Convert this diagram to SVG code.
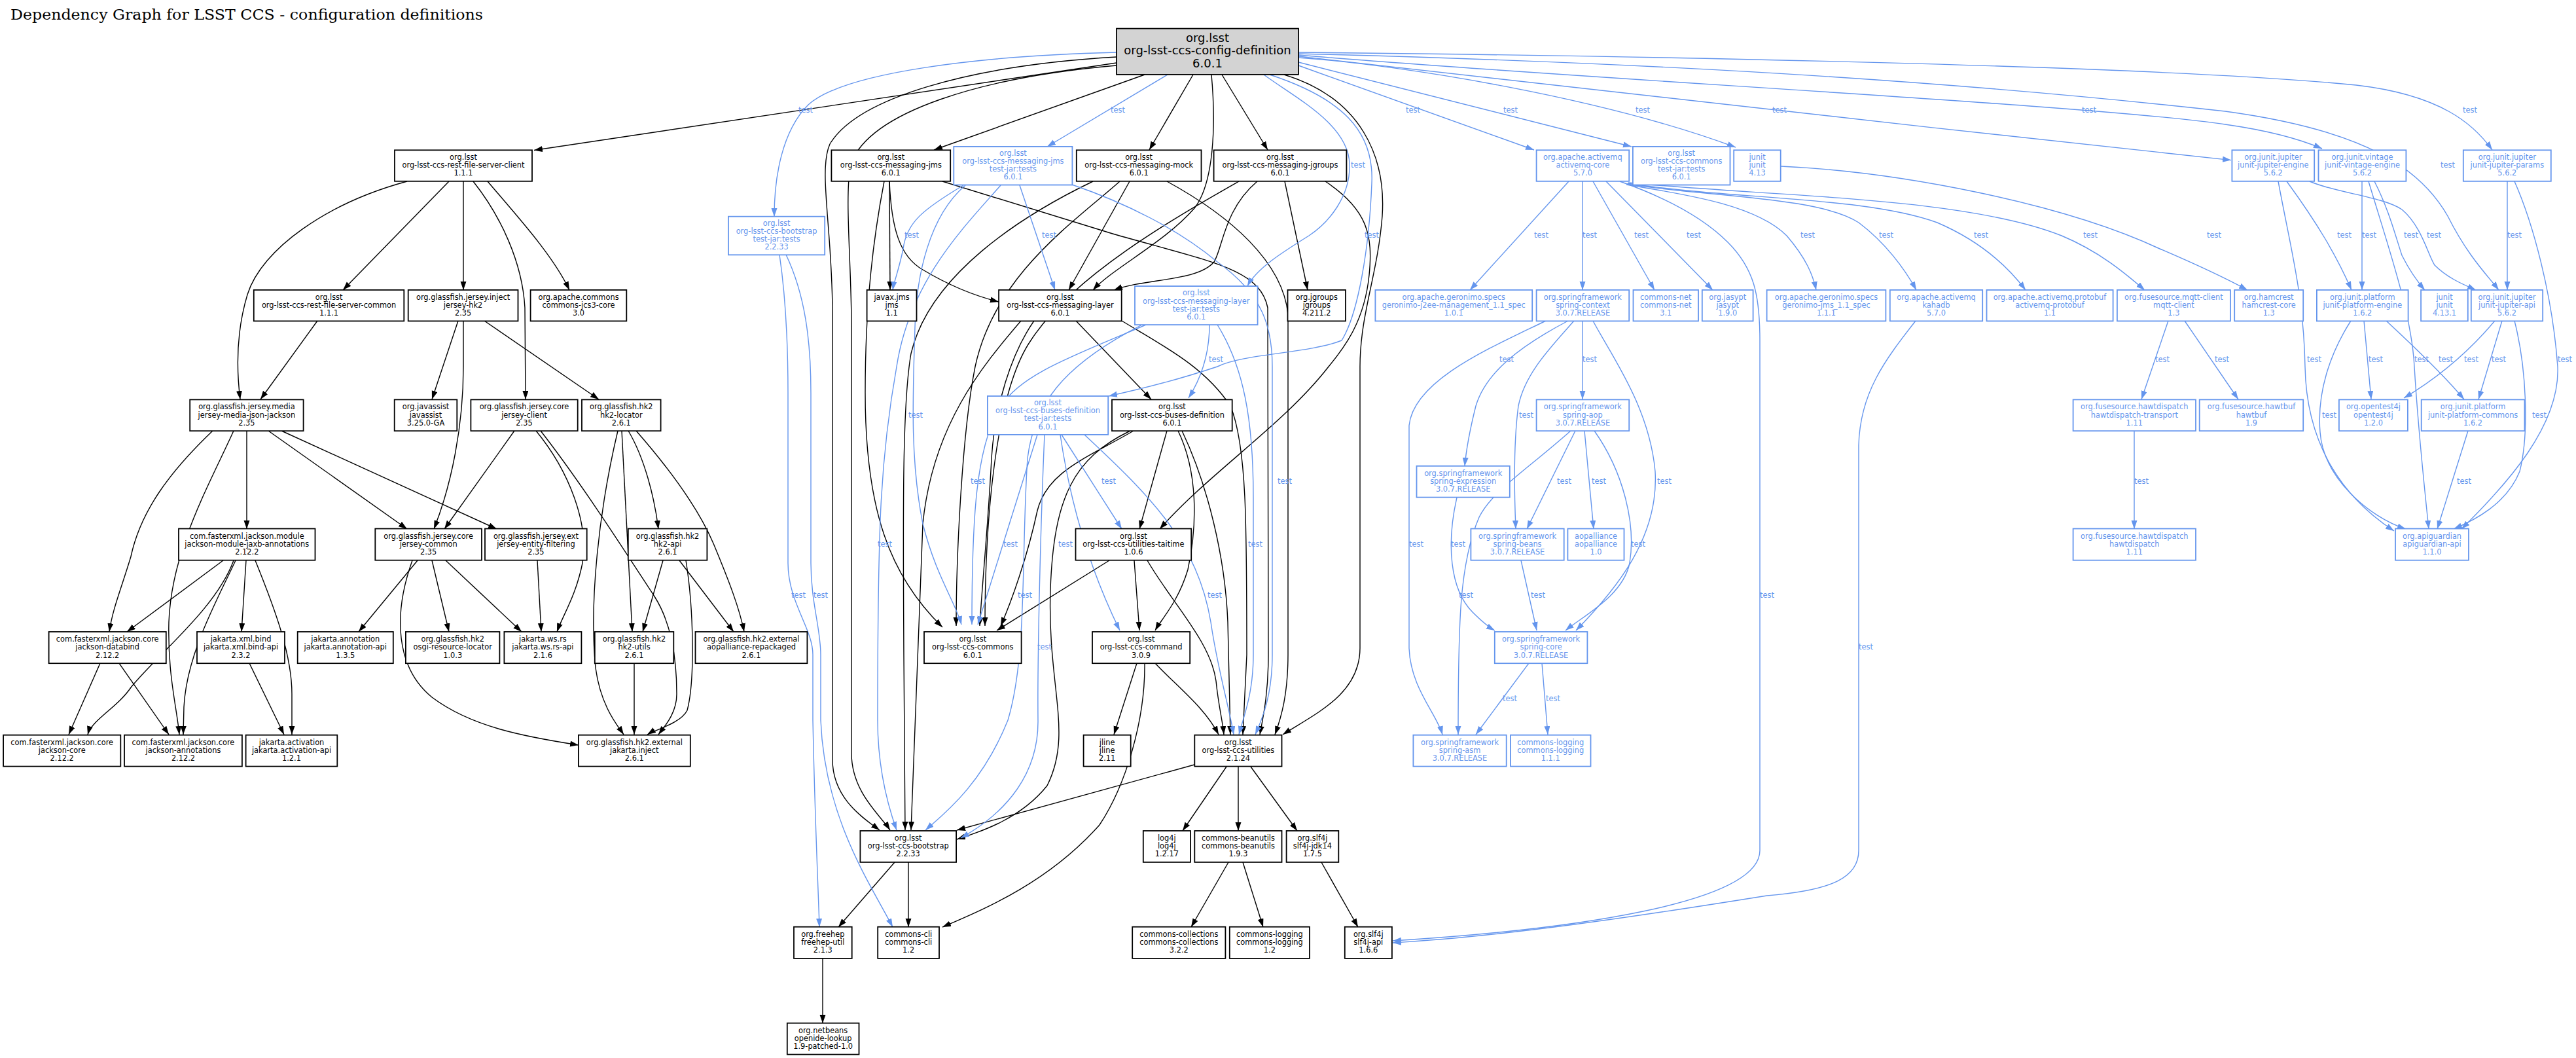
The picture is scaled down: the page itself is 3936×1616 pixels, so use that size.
<svg xmlns="http://www.w3.org/2000/svg" width="3936" height="1616" viewBox="0 0 3936 1616">
<style>
.n rect{fill:#fff;stroke:#000;stroke-width:1.8}
.n text{font-family:"DejaVu Sans",sans-serif;font-size:11.4px;fill:#000;text-anchor:middle}
.b rect{stroke:#6495ED}
.b text{fill:#6495ED}
.r rect{fill:#d3d3d3}
.r text{font-size:18px}
.e{fill:none;stroke:#000;stroke-width:1.4;marker-end:url(#ak)}
.t{fill:none;stroke:#6495ED;stroke-width:1.4;marker-end:url(#ab)}
.lb{font-family:"DejaVu Sans",sans-serif;font-size:11.4px;fill:#6495ED;text-anchor:middle}
</style>
<defs>
<marker id="ak" markerUnits="userSpaceOnUse" markerWidth="14" markerHeight="10" refX="13" refY="4.5" orient="auto" viewBox="0 0 14 10"><path d="M0,0 L13,4.5 L0,9 z" fill="#000"/></marker>
<marker id="ab" markerUnits="userSpaceOnUse" markerWidth="14" markerHeight="10" refX="13" refY="4.5" orient="auto" viewBox="0 0 14 10"><path d="M0,0 L13,4.5 L0,9 z" fill="#6495ED"/></marker>
</defs>
<rect width="3936" height="1616" fill="#fff"/>
<text x="16" y="30" font-family="DejaVu Serif,serif" font-size="23" textLength="722" lengthAdjust="spacingAndGlyphs">Dependency Graph for LSST CCS - configuration definitions</text>

<g id="edges">
<path class="e" d="M1706,96 L816,229.5"/>
<path class="e" d="M686,277 L524,443"/>
<path class="e" d="M708,277 L708,443"/>
<path class="e" d="M745,277 C790,330 845,390 870,443"/>
<path class="e" d="M622,277 C500,310 400,380 378,450 C360,510 362,570 367,610"/>
<path class="e" d="M723,277 C765,330 798,400 802,470 L803,610"/>
<path class="e" d="M485,490 L398,610"/>
<path class="e" d="M700,490 L660,610"/>
<path class="e" d="M708,490 L708,560 C708,650 690,740 663,808"/>
<path class="e" d="M740,490 L915,610"/>
<path class="e" d="M325,658 C260,720 215,780 200,850 C185,900 172,930 167,965"/>
<path class="e" d="M357,658 C320,740 262,840 258,950 C256,1030 270,1080 274,1122"/>
<path class="e" d="M377,658 L377,808"/>
<path class="e" d="M410,658 L622,808"/>
<path class="e" d="M430,658 L759,808"/>
<path class="e" d="M341,856 L194,965"/>
<path class="e" d="M376,856 L369,965"/>
<path class="e" d="M357,856 C330,930 240,1000 200,1050 C180,1080 140,1100 134,1122"/>
<path class="e" d="M360,856 C330,920 285,1000 281,1080 L280,1122"/>
<path class="e" d="M390,856 C420,930 446,1000 446,1060 L446,1122"/>
<path class="e" d="M153,1013 L105,1122"/>
<path class="e" d="M182,1013 L258,1122"/>
<path class="e" d="M381,1013 L434,1122"/>
<path class="e" d="M638,856 L548,965"/>
<path class="e" d="M660,856 L686,965"/>
<path class="e" d="M681,856 L797,965"/>
<path class="e" d="M630,856 C600,940 605,1020 660,1065 C720,1110 800,1125 884,1138"/>
<path class="e" d="M821,856 L827,965"/>
<path class="e" d="M786,658 L679,808"/>
<path class="e" d="M819,658 C870,720 900,800 890,860 C880,910 860,940 851,965"/>
<path class="e" d="M826,658 C890,740 960,850 1000,911 C1025,950 1034,1000 1034,1060 C1034,1090 1015,1110 1006,1122"/>
<path class="e" d="M960,658 C985,700 1000,760 1006,808"/>
<path class="e" d="M950,658 L966,965"/>
<path class="e" d="M944,658 C915,780 900,920 910,1020 C918,1080 945,1110 953,1122"/>
<path class="e" d="M972,658 C1000,690 1060,760 1090,830 C1115,890 1130,930 1137,965"/>
<path class="e" d="M1013,856 L982,965"/>
<path class="e" d="M1038,856 L1121,965"/>
<path class="e" d="M1048,856 C1060,930 1062,1040 1050,1085 C1040,1105 1000,1115 989,1122"/>
<path class="e" d="M969,1013 L969,1122"/>

<path class="e" d="M1749,114 L1427,229"/>
<path class="e" d="M1823,114 L1756,229"/>
<path class="e" d="M1867,114 L1937,229"/>
<path class="e" d="M1851,114 C1858,190 1855,280 1825,318 C1780,370 1700,410 1670,443"/>
<path class="e" d="M1706,87 C1480,100 1310,150 1268,220 C1250,260 1272,350 1272,480 L1272,1160 C1272,1220 1320,1250 1344,1268"/>
<path class="e" d="M1706,100 C1500,118 1330,170 1300,250 C1290,300 1301,400 1301,500 L1301,1150 C1301,1210 1345,1245 1360,1268"/>
<path class="e" d="M1359,277 L1360,443"/>
<path class="e" d="M1359,277 C1362,350 1375,392 1410,412 C1450,436 1490,452 1526,461"/>
<path class="e" d="M1351,277 C1335,360 1322,460 1322,600 C1322,780 1360,880 1440,958"/>
<path class="e" d="M1440,277 L1700,357 C1850,400 1925,410 1937,470 L1938,1000 C1938,1060 1930,1095 1925,1122"/>
<path class="e" d="M1726,277 L1633,443"/>
<path class="e" d="M1670,277 C1560,330 1420,420 1392,540 C1378,620 1380,800 1381,1000 L1383,1268"/>
<path class="e" d="M1711,277 C1640,340 1520,420 1490,560 C1470,660 1461,850 1461,956"/>
<path class="e" d="M1783,277 C1880,330 1960,400 1968,480 L1968,1000 C1968,1060 1958,1095 1948,1122"/>
<path class="e" d="M1921,277 C1870,320 1868,380 1855,400 C1830,430 1750,425 1702,443"/>
<path class="e" d="M1893,277 C1800,330 1640,420 1575,520 C1520,600 1505,800 1505,956"/>
<path class="e" d="M1963,277 L1998,443"/>
<path class="e" d="M2025,277 C2090,320 2098,360 2092,420 C2085,490 2055,530 2030,560 C1960,650 1850,720 1772,808"/>
<path class="e" d="M1962,114 C2080,150 2118,240 2112,330 C2105,420 2078,480 2078,560 L2078,990 C2078,1060 2010,1090 1960,1122"/>
<path class="e" d="M1580,490 C1545,540 1520,620 1515,700 C1510,800 1500,900 1497,956"/>
<path class="e" d="M1644,490 L1759,610"/>
<path class="e" d="M1560,490 C1500,560 1425,650 1410,800 L1392,1268"/>
<path class="e" d="M1714,490 C1780,530 1840,560 1880,620 C1905,680 1905,800 1905,1000 L1899,1122"/>
<path class="e" d="M1783,658 L1741,808"/>
<path class="e" d="M1732,658 C1660,700 1600,720 1585,780 C1570,850 1545,920 1529,956"/>
<path class="e" d="M1800,658 C1830,720 1830,800 1815,870 C1800,920 1775,945 1765,963"/>
<path class="e" d="M1806,658 C1845,740 1872,850 1876,950 L1880,1122"/>
<path class="e" d="M1727,658 C1640,700 1610,760 1605,900 C1600,1050 1640,1120 1600,1200 C1560,1250 1500,1270 1462,1282"/>
<path class="e" d="M1695,856 L1523,963"/>
<path class="e" d="M1733,856 L1741,963"/>
<path class="e" d="M1753,856 C1790,920 1850,980 1858,1040 C1862,1080 1868,1100 1870,1122"/>
<path class="e" d="M1737,1013 L1702,1122"/>
<path class="e" d="M1765,1013 C1800,1050 1840,1080 1862,1122"/>
<path class="e" d="M1749,1013 C1750,1100 1720,1200 1680,1260 C1600,1350 1500,1390 1440,1416"/>
<path class="e" d="M1825,1168 L1462,1268"/>
<path class="e" d="M1874,1171 L1807,1269"/>
<path class="e" d="M1892,1171 L1892,1269"/>
<path class="e" d="M1911,1171 L1982,1269"/>
<path class="e" d="M1367,1317 L1281,1416"/>
<path class="e" d="M1388,1317 L1388,1416"/>
<path class="e" d="M1877,1317 L1820,1416"/>
<path class="e" d="M1899,1317 L1930,1416"/>
<path class="e" d="M2019,1317 L2075,1416"/>
<path class="e" d="M1257,1464 L1257,1563"/>

<path class="t" d="M1706,80 C1500,85 1290,110 1235,160 C1195,200 1183,270 1183,331"/>
<path class="t" d="M1784,114 L1600,224"/>
<path class="t" d="M1931,114 C1980,150 2060,190 2062,250 C2064,300 2030,340 2000,360 C1960,385 1920,410 1906,437"/>
<path class="t" d="M1940,114 C2050,150 2100,200 2096,280 C2092,380 2075,480 2050,520 C2000,540 1900,540 1860,560 C1800,580 1740,595 1694,605"/>
<path class="t" d="M1472,283 C1410,320 1385,340 1380,380 C1374,410 1366,430 1364,443"/>
<path class="t" d="M1558,283 L1612,443"/>
<path class="t" d="M1529,283 C1470,350 1390,430 1370,560 C1345,700 1341,800 1341,1100 C1341,1180 1360,1240 1370,1268"/>
<path class="t" d="M1475,283 C1420,330 1400,420 1398,500 C1395,600 1390,700 1410,800 C1430,880 1460,920 1469,954"/>
<path class="t" d="M1638,282 C1720,310 1800,350 1860,400 C1930,450 1944,500 1944,560 L1944,1000 C1944,1060 1930,1095 1918,1122"/>
<path class="t" d="M1848,496 C1848,530 1840,570 1816,608"/>
<path class="t" d="M1751,496 C1650,540 1560,570 1530,620 C1490,680 1485,800 1485,954"/>
<path class="t" d="M1860,496 C1900,560 1915,640 1915,760 L1915,1000 C1915,1060 1900,1095 1893,1122"/>
<path class="t" d="M1585,664 L1494,954"/>
<path class="t" d="M1596,664 C1590,800 1585,1000 1586,1100 C1587,1180 1540,1240 1468,1280"/>
<path class="t" d="M1620,664 C1640,800 1680,900 1711,963"/>
<path class="t" d="M1622,664 L1714,808"/>
<path class="t" d="M1657,664 C1760,760 1830,830 1850,950 C1860,1020 1878,1080 1885,1122"/>
<path class="t" d="M1745,496 C1620,560 1580,620 1570,700 C1560,850 1570,1000 1540,1100 C1500,1200 1440,1245 1414,1268"/>
<path class="t" d="M1191,389 C1200,450 1204,520 1204,600 L1204,860 C1204,920 1242,960 1242,1000 L1242,1100 C1245,1250 1250,1350 1252,1416"/>
<path class="t" d="M1201,389 C1230,450 1239,520 1239,600 L1239,860 C1239,920 1254,960 1254,1000 L1254,1100 C1260,1250 1330,1350 1364,1416"/>

<path class="t" d="M1984,100 L2344,229"/>
<path class="t" d="M1984,95 L2493,224"/>
<path class="t" d="M1984,88 C2150,100 2450,150 2652,225"/>
<path class="t" d="M1984,86 L2950,194.6 L3409,244.6"/>
<path class="t" d="M1984,84 C2400,120 3200,160 3400,190 C3470,200 3520,215 3548,227"/>
<path class="t" d="M1984,82 C2500,95 2950,120 3400,170 C3620,200 3700,260 3740,330 C3770,390 3800,420 3818,443"/>
<path class="t" d="M1984,80 C2500,85 3300,100 3600,130 C3730,145 3780,190 3808,229"/>
<path class="t" d="M2721,254 C2900,262 3150,310 3300,380 C3370,410 3410,430 3434,443"/>
<path class="t" d="M2397,277 L2246,443"/>
<path class="t" d="M2418,277 L2418,443"/>
<path class="t" d="M2434,277 L2528,443"/>
<path class="t" d="M2454,277 L2617,443"/>
<path class="t" d="M2475,277 C2540,300 2600,330 2640,370 C2680,410 2689,450 2689,520 L2689,1299 C2689,1380 2400,1420 2128,1437"/>
<path class="t" d="M2485,282 C2560,295 2680,310 2730,360 C2760,395 2770,420 2775,443"/>
<path class="t" d="M2486,281 C2600,300 2780,300 2840,340 C2880,370 2910,410 2928,443"/>
<path class="t" d="M2487,280 C2650,305 2850,300 2960,340 C3030,370 3070,410 3095,443"/>
<path class="t" d="M2488,279 C2700,300 3000,300 3150,360 C3210,385 3250,420 3277,443"/>
<path class="t" d="M2418,490 L2418,610"/>
<path class="t" d="M2396,490 C2320,530 2270,570 2255,620 C2245,660 2240,690 2238,712"/>
<path class="t" d="M2405,490 C2370,530 2330,570 2320,620 C2312,680 2314,760 2316,808"/>
<path class="t" d="M2362,490 C2280,530 2160,580 2153,650 L2153,990 C2155,1050 2195,1090 2204,1122"/>
<path class="t" d="M2434,490 C2460,540 2520,620 2529,720 C2535,820 2470,900 2408,963"/>
<path class="t" d="M2407,658 L2333,808"/>
<path class="t" d="M2421,658 L2435,808"/>
<path class="t" d="M2436,658 C2480,720 2500,800 2490,860 C2480,910 2420,940 2392,963"/>
<path class="t" d="M2400,658 C2330,720 2280,750 2260,790 C2230,860 2228,950 2228,1122"/>
<path class="t" d="M2226,760 C2210,830 2215,900 2250,935 C2265,950 2275,958 2284,963"/>
<path class="t" d="M2324,856 L2348,963"/>
<path class="t" d="M2336,1013 L2255,1122"/>
<path class="t" d="M2356,1013 L2365,1122"/>
<path class="t" d="M2927,490 C2880,550 2842,600 2840,680 L2840,1299 C2840,1340 2800,1360 2700,1368 C2500,1400 2300,1430 2128,1440"/>
<path class="t" d="M3313,490 L3272,610"/>
<path class="t" d="M3338,490 L3420,610"/>
<path class="t" d="M3261,658 L3261,808"/>
<path class="t" d="M3494,277 C3540,340 3570,390 3593,443"/>
<path class="t" d="M3529,277 C3570,295 3640,300 3670,320 C3700,345 3710,390 3720,405 C3740,425 3765,435 3783,443"/>
<path class="t" d="M3481,277 C3500,380 3520,450 3522,560 C3524,680 3580,760 3658,811"/>
<path class="t" d="M3609,277 L3609,443"/>
<path class="t" d="M3628,277 C3650,320 3660,360 3670,390 C3685,420 3698,435 3705,443"/>
<path class="t" d="M3619,277 C3650,380 3685,480 3689,560 C3695,660 3705,750 3711,808"/>
<path class="t" d="M3831,277 L3831,443"/>
<path class="t" d="M3842,277 C3870,340 3900,450 3908,560 C3912,650 3830,740 3761,808"/>
<path class="t" d="M3612,490 L3623,610"/>
<path class="t" d="M3646,490 C3700,540 3740,580 3765,610"/>
<path class="t" d="M3592,490 C3560,540 3540,600 3545,660 C3550,730 3620,790 3676,808"/>
<path class="t" d="M3812,490 C3770,540 3720,580 3673,608"/>
<path class="t" d="M3823,490 L3787,610"/>
<path class="t" d="M3842,490 C3860,560 3865,660 3850,720 C3830,770 3780,795 3749,808"/>
<path class="t" d="M3771,658 L3724,808"/>

<g class="lb">
<text x="1231" y="172">test</text><text x="1708" y="172">test</text><text x="2075" y="256">test</text><text x="2096" y="363">test</text>
<text x="1393" y="363">test</text><text x="1603" y="363">test</text><text x="1352" y="835">test</text><text x="1399" y="638">test</text>
<text x="1963" y="739">test</text><text x="1858" y="553">test</text><text x="1494" y="739">test</text><text x="1918" y="835">test</text>
<text x="1544" y="835">test</text><text x="1596" y="992">test</text><text x="1628" y="835">test</text><text x="1694" y="739">test</text>
<text x="1856" y="913">test</text><text x="1566" y="913">test</text><text x="1220" y="913">test</text><text x="1254" y="913">test</text>
<text x="2159" y="172">test</text><text x="2308" y="172">test</text><text x="2510" y="172">test</text><text x="2719" y="172">test</text>
<text x="3192" y="172">test</text><text x="3740" y="256">test</text><text x="3774" y="172">test</text><text x="3383" y="363">test</text>
<text x="2355" y="363">test</text><text x="2429" y="363">test</text><text x="2508" y="363">test</text><text x="2588" y="363">test</text>
<text x="2700" y="913">test</text><text x="2762" y="363">test</text><text x="2882" y="363">test</text><text x="3027" y="363">test</text>
<text x="3194" y="363">test</text><text x="2429" y="553">test</text><text x="2302" y="553">test</text><text x="2332" y="638">test</text>
<text x="2164" y="835">test</text><text x="2543" y="739">test</text><text x="2390" y="739">test</text><text x="2443" y="739">test</text>
<text x="2503" y="835">test</text><text x="2240" y="913">test</text><text x="2228" y="835">test</text><text x="2350" y="913">test</text>
<text x="2307" y="1071">test</text><text x="2373" y="1071">test</text><text x="2851" y="992">test</text><text x="3304" y="553">test</text>
<text x="3395" y="553">test</text><text x="3272" y="739">test</text><text x="3582" y="363">test</text><text x="3719" y="363">test</text>
<text x="3536" y="553">test</text><text x="3620" y="363">test</text><text x="3684" y="363">test</text><text x="3700" y="553">test</text>
<text x="3842" y="363">test</text><text x="3919" y="553">test</text><text x="3630" y="553">test</text><text x="3737" y="553">test</text>
<text x="3559" y="638">test</text><text x="3776" y="553">test</text><text x="3818" y="553">test</text><text x="3880" y="638">test</text>
<text x="3765" y="739">test</text>
</g>
</g>

<g id="n-root" class="n r"><rect x="1706" y="43.6" width="278" height="70.3"/><text x="1845" y="63.8">org.lsst</text><text x="1845" y="83.4">org-lsst-ccs-config-definition</text><text x="1845" y="102.7">6.0.1</text></g>

<g id="n-restclient" class="n"><rect x="603" y="229.3" width="210" height="47.5"/><text x="708" y="244">org.lsst</text><text x="708" y="256.2">org-lsst-ccs-rest-file-server-client</text><text x="708" y="268.4">1.1.1</text></g>
<g id="n-jms" class="n"><rect x="1270.4" y="229.3" width="181.8" height="47.5"/><text x="1361.3" y="244">org.lsst</text><text x="1361.3" y="256.2">org-lsst-ccs-messaging-jms</text><text x="1361.3" y="268.4">6.0.1</text></g>
<g id="n-jmstj" class="n b"><rect x="1457.3" y="223.9" width="181.1" height="58.6"/><text x="1547.9" y="238">org.lsst</text><text x="1547.9" y="250.1">org-lsst-ccs-messaging-jms</text><text x="1547.9" y="262.2">test-jar:tests</text><text x="1547.9" y="274.3">6.0.1</text></g>
<g id="n-mock" class="n"><rect x="1644.8" y="229.3" width="190.7" height="47.5"/><text x="1740.2" y="244">org.lsst</text><text x="1740.2" y="256.2">org-lsst-ccs-messaging-mock</text><text x="1740.2" y="268.4">6.0.1</text></g>
<g id="n-jgrp" class="n"><rect x="1854.6" y="229.3" width="202.8" height="47.5"/><text x="1956" y="244">org.lsst</text><text x="1956" y="256.2">org-lsst-ccs-messaging-jgroups</text><text x="1956" y="268.4">6.0.1</text></g>
<g id="n-activemq" class="n b"><rect x="2347.6" y="229.3" width="141.6" height="47.5"/><text x="2418.4" y="244">org.apache.activemq</text><text x="2418.4" y="256.2">activemq-core</text><text x="2418.4" y="268.4">5.7.0</text></g>
<g id="n-commonstj" class="n b"><rect x="2494.9" y="223.9" width="148.6" height="58.6"/><text x="2569.2" y="238">org.lsst</text><text x="2569.2" y="250.1">org-lsst-ccs-commons</text><text x="2569.2" y="262.2">test-jar:tests</text><text x="2569.2" y="274.3">6.0.1</text></g>
<g id="n-junit413" class="n b"><rect x="2649.2" y="229.3" width="71.5" height="47.5"/><text x="2685" y="244">junit</text><text x="2685" y="256.2">junit</text><text x="2685" y="268.4">4.13</text></g>
<g id="n-jupengine" class="n b"><rect x="3410.4" y="229.3" width="125.8" height="47.5"/><text x="3473.3" y="244">org.junit.jupiter</text><text x="3473.3" y="256.2">junit-jupiter-engine</text><text x="3473.3" y="268.4">5.6.2</text></g>
<g id="n-vintage" class="n b"><rect x="3542.5" y="229.3" width="133.9" height="47.5"/><text x="3609.5" y="244">org.junit.vintage</text><text x="3609.5" y="256.2">junit-vintage-engine</text><text x="3609.5" y="268.4">5.6.2</text></g>
<g id="n-params" class="n b"><rect x="3763.8" y="229.3" width="134" height="47.5"/><text x="3830.8" y="244">org.junit.jupiter</text><text x="3830.8" y="256.2">junit-jupiter-params</text><text x="3830.8" y="268.4">5.6.2</text></g>
<g id="n-boottj" class="n b"><rect x="1112.9" y="330.7" width="147.3" height="58.6"/><text x="1186.6" y="344.8">org.lsst</text><text x="1186.6" y="356.9">org-lsst-ccs-bootstrap</text><text x="1186.6" y="369">test-jar:tests</text><text x="1186.6" y="381.1">2.2.33</text></g>

<g id="n-restcommon" class="n"><rect x="387.8" y="442.9" width="229.5" height="47.5"/><text x="502.6" y="457.6">org.lsst</text><text x="502.6" y="469.8">org-lsst-ccs-rest-file-server-common</text><text x="502.6" y="482">1.1.1</text></g>
<g id="n-jerseyhk2" class="n"><rect x="623.7" y="442.9" width="167.8" height="47.5"/><text x="707.6" y="457.6">org.glassfish.jersey.inject</text><text x="707.6" y="469.8">jersey-hk2</text><text x="707.6" y="482">2.35</text></g>
<g id="n-jcs3" class="n"><rect x="810.6" y="442.9" width="146.7" height="47.5"/><text x="884" y="457.6">org.apache.commons</text><text x="884" y="469.8">commons-jcs3-core</text><text x="884" y="482">3.0</text></g>
<g id="n-javaxjms" class="n"><rect x="1324.6" y="442.9" width="75.9" height="47.5"/><text x="1362.6" y="457.6">javax.jms</text><text x="1362.6" y="469.8">jms</text><text x="1362.6" y="482">1.1</text></g>
<g id="n-layer" class="n"><rect x="1526.1" y="442.9" width="187.6" height="47.5"/><text x="1619.9" y="457.6">org.lsst</text><text x="1619.9" y="469.8">org-lsst-ccs-messaging-layer</text><text x="1619.9" y="482">6.0.1</text></g>
<g id="n-layertj" class="n b"><rect x="1734" y="437.1" width="187.6" height="59"/><text x="1827.8" y="451.4">org.lsst</text><text x="1827.8" y="463.5">org-lsst-ccs-messaging-layer</text><text x="1827.8" y="475.6">test-jar:tests</text><text x="1827.8" y="487.7">6.0.1</text></g>
<g id="n-jgroups" class="n"><rect x="1967.5" y="442.9" width="88.5" height="47.5"/><text x="2011.8" y="457.6">org.jgroups</text><text x="2011.8" y="469.8">jgroups</text><text x="2011.8" y="482">4.211.2</text></g>
<g id="n-geronimoj2ee" class="n b"><rect x="2101.4" y="442.9" width="239.8" height="47.5"/><text x="2221.3" y="457.6">org.apache.geronimo.specs</text><text x="2221.3" y="469.8">geronimo-j2ee-management_1.1_spec</text><text x="2221.3" y="482">1.0.1</text></g>
<g id="n-springctx" class="n b"><rect x="2347.6" y="442.9" width="141.6" height="47.5"/><text x="2418.4" y="457.6">org.springframework</text><text x="2418.4" y="469.8">spring-context</text><text x="2418.4" y="482">3.0.7.RELEASE</text></g>
<g id="n-commonsnet" class="n b"><rect x="2495.5" y="442.9" width="99.5" height="47.5"/><text x="2545.3" y="457.6">commons-net</text><text x="2545.3" y="469.8">commons-net</text><text x="2545.3" y="482">3.1</text></g>
<g id="n-jasypt" class="n b"><rect x="2600.8" y="442.9" width="77.8" height="47.5"/><text x="2639.7" y="457.6">org.jasypt</text><text x="2639.7" y="469.8">jasypt</text><text x="2639.7" y="482">1.9.0</text></g>
<g id="n-geronimojms" class="n b"><rect x="2699.6" y="442.9" width="181.8" height="47.5"/><text x="2790.5" y="457.6">org.apache.geronimo.specs</text><text x="2790.5" y="469.8">geronimo-jms_1.1_spec</text><text x="2790.5" y="482">1.1.1</text></g>
<g id="n-kahadb" class="n b"><rect x="2887.8" y="442.9" width="141.4" height="47.5"/><text x="2958.5" y="457.6">org.apache.activemq</text><text x="2958.5" y="469.8">kahadb</text><text x="2958.5" y="482">5.7.0</text></g>
<g id="n-protobuf" class="n b"><rect x="3035.5" y="442.9" width="193.1" height="47.5"/><text x="3132" y="457.6">org.apache.activemq.protobuf</text><text x="3132" y="469.8">activemq-protobuf</text><text x="3132" y="482">1.1</text></g>
<g id="n-mqtt" class="n b"><rect x="3234.9" y="442.9" width="173" height="47.5"/><text x="3321.4" y="457.6">org.fusesource.mqtt-client</text><text x="3321.4" y="469.8">mqtt-client</text><text x="3321.4" y="482">1.3</text></g>
<g id="n-hamcrest" class="n b"><rect x="3414.2" y="442.9" width="105" height="47.5"/><text x="3466.7" y="457.6">org.hamcrest</text><text x="3466.7" y="469.8">hamcrest-core</text><text x="3466.7" y="482">1.3</text></g>
<g id="n-platengine" class="n b"><rect x="3539.9" y="442.9" width="139.7" height="47.5"/><text x="3609.8" y="457.6">org.junit.platform</text><text x="3609.8" y="469.8">junit-platform-engine</text><text x="3609.8" y="482">1.6.2</text></g>
<g id="n-junit4131" class="n b"><rect x="3699.1" y="442.9" width="71.7" height="47.5"/><text x="3735" y="457.6">junit</text><text x="3735" y="469.8">junit</text><text x="3735" y="482">4.13.1</text></g>
<g id="n-jupapi" class="n b"><rect x="3775.8" y="442.9" width="109.4" height="47.5"/><text x="3830.5" y="457.6">org.junit.jupiter</text><text x="3830.5" y="469.8">junit-jupiter-api</text><text x="3830.5" y="482">5.6.2</text></g>

<g id="n-jsonjackson" class="n"><rect x="290.2" y="610.4" width="173.4" height="47.8"/><text x="376.9" y="625.3">org.glassfish.jersey.media</text><text x="376.9" y="637.5">jersey-media-json-jackson</text><text x="376.9" y="649.7">2.35</text></g>
<g id="n-javassist" class="n"><rect x="602.7" y="610.4" width="95.6" height="47.8"/><text x="650.5" y="625.3">org.javassist</text><text x="650.5" y="637.5">javassist</text><text x="650.5" y="649.7">3.25.0-GA</text></g>
<g id="n-jerseyclient" class="n"><rect x="719.4" y="610.4" width="163.3" height="47.8"/><text x="801" y="625.3">org.glassfish.jersey.core</text><text x="801" y="637.5">jersey-client</text><text x="801" y="649.7">2.35</text></g>
<g id="n-hk2locator" class="n"><rect x="889" y="610.4" width="120.6" height="47.8"/><text x="949.3" y="625.3">org.glassfish.hk2</text><text x="949.3" y="637.5">hk2-locator</text><text x="949.3" y="649.7">2.6.1</text></g>
<g id="n-busestj" class="n b"><rect x="1508.9" y="605" width="184.3" height="58.9"/><text x="1601" y="619.2">org.lsst</text><text x="1601" y="631.3">org-lsst-ccs-buses-definition</text><text x="1601" y="643.4">test-jar:tests</text><text x="1601" y="655.5">6.0.1</text></g>
<g id="n-buses" class="n"><rect x="1699" y="610.4" width="183.7" height="47.8"/><text x="1790.9" y="625.3">org.lsst</text><text x="1790.9" y="637.5">org-lsst-ccs-buses-definition</text><text x="1790.9" y="649.7">6.0.1</text></g>
<g id="n-springaop" class="n b"><rect x="2347.6" y="610.4" width="141.6" height="47.8"/><text x="2418.4" y="625.3">org.springframework</text><text x="2418.4" y="637.5">spring-aop</text><text x="2418.4" y="649.7">3.0.7.RELEASE</text></g>
<g id="n-hawtdisptrans" class="n b"><rect x="3167.6" y="610.4" width="187.4" height="47.8"/><text x="3261.3" y="625.3">org.fusesource.hawtdispatch</text><text x="3261.3" y="637.5">hawtdispatch-transport</text><text x="3261.3" y="649.7">1.11</text></g>
<g id="n-hawtbuf" class="n b"><rect x="3360.7" y="610.4" width="158.5" height="47.8"/><text x="3440" y="625.3">org.fusesource.hawtbuf</text><text x="3440" y="637.5">hawtbuf</text><text x="3440" y="649.7">1.9</text></g>
<g id="n-opentest4j" class="n b"><rect x="3573.9" y="610.4" width="105" height="47.8"/><text x="3626.4" y="625.3">org.opentest4j</text><text x="3626.4" y="637.5">opentest4j</text><text x="3626.4" y="649.7">1.2.0</text></g>
<g id="n-platcommons" class="n b"><rect x="3699.7" y="610.4" width="157.8" height="47.8"/><text x="3778.6" y="625.3">org.junit.platform</text><text x="3778.6" y="637.5">junit-platform-commons</text><text x="3778.6" y="649.7">1.6.2</text></g>
<g id="n-springexpr" class="n b"><rect x="2164.5" y="711.8" width="142.3" height="47.8"/><text x="2235.7" y="726.7">org.springframework</text><text x="2235.7" y="738.9">spring-expression</text><text x="2235.7" y="751.1">3.0.7.RELEASE</text></g>

<g id="n-jaxbann" class="n"><rect x="273" y="807.5" width="208.5" height="48.2"/><text x="377.3" y="822.6">com.fasterxml.jackson.module</text><text x="377.3" y="834.8">jackson-module-jaxb-annotations</text><text x="377.3" y="847">2.12.2</text></g>
<g id="n-jerseycommon" class="n"><rect x="573.3" y="807.5" width="162.7" height="48.2"/><text x="654.7" y="822.6">org.glassfish.jersey.core</text><text x="654.7" y="834.8">jersey-common</text><text x="654.7" y="847">2.35</text></g>
<g id="n-entityfilter" class="n"><rect x="741" y="807.5" width="155.7" height="48.2"/><text x="818.9" y="822.6">org.glassfish.jersey.ext</text><text x="818.9" y="834.8">jersey-entity-filtering</text><text x="818.9" y="847">2.35</text></g>
<g id="n-hk2api" class="n"><rect x="959.8" y="807.5" width="120.6" height="48.2"/><text x="1020.1" y="822.6">org.glassfish.hk2</text><text x="1020.1" y="834.8">hk2-api</text><text x="1020.1" y="847">2.6.1</text></g>
<g id="n-taitime" class="n"><rect x="1643.5" y="807.5" width="176.7" height="48.2"/><text x="1731.9" y="822.6">org.lsst</text><text x="1731.9" y="834.8">org-lsst-ccs-utilities-taitime</text><text x="1731.9" y="847">1.0.6</text></g>
<g id="n-springbeans" class="n b"><rect x="2247.4" y="807.5" width="142.3" height="48.2"/><text x="2318.6" y="822.6">org.springframework</text><text x="2318.6" y="834.8">spring-beans</text><text x="2318.6" y="847">3.0.7.RELEASE</text></g>
<g id="n-aopalliance" class="n b"><rect x="2395.4" y="807.5" width="86.1" height="48.2"/><text x="2438.5" y="822.6">aopalliance</text><text x="2438.5" y="834.8">aopalliance</text><text x="2438.5" y="847">1.0</text></g>
<g id="n-hawtdispatch" class="n b"><rect x="3167.6" y="807.5" width="187.4" height="48.2"/><text x="3261.3" y="822.6">org.fusesource.hawtdispatch</text><text x="3261.3" y="834.8">hawtdispatch</text><text x="3261.3" y="847">1.11</text></g>
<g id="n-apiguardian" class="n b"><rect x="3660" y="807.5" width="112" height="48.2"/><text x="3716" y="822.6">org.apiguardian</text><text x="3716" y="834.8">apiguardian-api</text><text x="3716" y="847">1.1.0</text></g>

<g id="n-databind" class="n"><rect x="74.6" y="965" width="179.2" height="48.2"/><text x="164.2" y="980.1">com.fasterxml.jackson.core</text><text x="164.2" y="992.3">jackson-databind</text><text x="164.2" y="1004.5">2.12.2</text></g>
<g id="n-xmlbind" class="n"><rect x="301" y="965" width="134" height="48.2"/><text x="368" y="980.1">jakarta.xml.bind</text><text x="368" y="992.3">jakarta.xml.bind-api</text><text x="368" y="1004.5">2.3.2</text></g>
<g id="n-annotation" class="n"><rect x="454.7" y="965" width="146.1" height="48.2"/><text x="527.8" y="980.1">jakarta.annotation</text><text x="527.8" y="992.3">jakarta.annotation-api</text><text x="527.8" y="1004.5">1.3.5</text></g>
<g id="n-osgi" class="n"><rect x="619.9" y="965" width="143.5" height="48.2"/><text x="691.7" y="980.1">org.glassfish.hk2</text><text x="691.7" y="992.3">osgi-resource-locator</text><text x="691.7" y="1004.5">1.0.3</text></g>
<g id="n-wsrs" class="n"><rect x="770.4" y="965" width="118" height="48.2"/><text x="829.4" y="980.1">jakarta.ws.rs</text><text x="829.4" y="992.3">jakarta.ws.rs-api</text><text x="829.4" y="1004.5">2.1.6</text></g>
<g id="n-hk2utils" class="n"><rect x="908.8" y="965" width="120.5" height="48.2"/><text x="969" y="980.1">org.glassfish.hk2</text><text x="969" y="992.3">hk2-utils</text><text x="969" y="1004.5">2.6.1</text></g>
<g id="n-aoprepack" class="n"><rect x="1062.5" y="965" width="170.9" height="48.2"/><text x="1148" y="980.1">org.glassfish.hk2.external</text><text x="1148" y="992.3">aopalliance-repackaged</text><text x="1148" y="1004.5">2.6.1</text></g>
<g id="n-commons" class="n"><rect x="1412" y="965" width="148.6" height="48.2"/><text x="1486.3" y="980.1">org.lsst</text><text x="1486.3" y="992.3">org-lsst-ccs-commons</text><text x="1486.3" y="1004.5">6.0.1</text></g>
<g id="n-command" class="n"><rect x="1669" y="965" width="149.2" height="48.2"/><text x="1743.6" y="980.1">org.lsst</text><text x="1743.6" y="992.3">org-lsst-ccs-command</text><text x="1743.6" y="1004.5">3.0.9</text></g>
<g id="n-springcore" class="n b"><rect x="2283.8" y="965" width="141.6" height="48.2"/><text x="2354.6" y="980.1">org.springframework</text><text x="2354.6" y="992.3">spring-core</text><text x="2354.6" y="1004.5">3.0.7.RELEASE</text></g>

<g id="n-jacksoncore" class="n"><rect x="5.1" y="1122.7" width="179.2" height="47.9"/><text x="94.7" y="1137.6">com.fasterxml.jackson.core</text><text x="94.7" y="1149.8">jackson-core</text><text x="94.7" y="1162">2.12.2</text></g>
<g id="n-jacksonann" class="n"><rect x="190" y="1122.7" width="179.9" height="47.9"/><text x="280" y="1137.6">com.fasterxml.jackson.core</text><text x="280" y="1149.8">jackson-annotations</text><text x="280" y="1162">2.12.2</text></g>
<g id="n-activation" class="n"><rect x="375.6" y="1122.7" width="139.7" height="47.9"/><text x="445.5" y="1137.6">jakarta.activation</text><text x="445.5" y="1149.8">jakarta.activation-api</text><text x="445.5" y="1162">1.2.1</text></g>
<g id="n-inject" class="n"><rect x="883.9" y="1122.7" width="170.9" height="47.9"/><text x="969.3" y="1137.6">org.glassfish.hk2.external</text><text x="969.3" y="1149.8">jakarta.inject</text><text x="969.3" y="1162">2.6.1</text></g>
<g id="n-jline" class="n"><rect x="1655.6" y="1122.7" width="72.1" height="47.9"/><text x="1691.6" y="1137.6">jline</text><text x="1691.6" y="1149.8">jline</text><text x="1691.6" y="1162">2.11</text></g>
<g id="n-utilities" class="n"><rect x="1825.3" y="1122.7" width="133.2" height="47.9"/><text x="1891.9" y="1137.6">org.lsst</text><text x="1891.9" y="1149.8">org-lsst-ccs-utilities</text><text x="1891.9" y="1162">2.1.24</text></g>
<g id="n-springasm" class="n b"><rect x="2159.4" y="1122.7" width="142.3" height="47.9"/><text x="2230.5" y="1137.6">org.springframework</text><text x="2230.5" y="1149.8">spring-asm</text><text x="2230.5" y="1162">3.0.7.RELEASE</text></g>
<g id="n-clogging111" class="n b"><rect x="2308" y="1122.7" width="122.5" height="47.9"/><text x="2369.2" y="1137.6">commons-logging</text><text x="2369.2" y="1149.8">commons-logging</text><text x="2369.2" y="1162">1.1.1</text></g>

<g id="n-bootstrap" class="n"><rect x="1314.4" y="1269" width="146.7" height="47.9"/><text x="1387.7" y="1284">org.lsst</text><text x="1387.7" y="1296.2">org-lsst-ccs-bootstrap</text><text x="1387.7" y="1308.4">2.2.33</text></g>
<g id="n-log4j" class="n"><rect x="1746.8" y="1269" width="72.1" height="47.9"/><text x="1782.8" y="1284">log4j</text><text x="1782.8" y="1296.2">log4j</text><text x="1782.8" y="1308.4">1.2.17</text></g>
<g id="n-beanutils" class="n"><rect x="1825.3" y="1269" width="133.2" height="47.9"/><text x="1891.9" y="1284">commons-beanutils</text><text x="1891.9" y="1296.2">commons-beanutils</text><text x="1891.9" y="1308.4">1.9.3</text></g>
<g id="n-slf4jjdk" class="n"><rect x="1965.6" y="1269" width="79.7" height="47.9"/><text x="2005.4" y="1284">org.slf4j</text><text x="2005.4" y="1296.2">slf4j-jdk14</text><text x="2005.4" y="1308.4">1.7.5</text></g>

<g id="n-freehep" class="n"><rect x="1213" y="1415.7" width="88.7" height="48.2"/><text x="1257.3" y="1430.8">org.freehep</text><text x="1257.3" y="1443">freehep-util</text><text x="1257.3" y="1455.2">2.1.3</text></g>
<g id="n-cli" class="n"><rect x="1341.2" y="1415.7" width="93.8" height="48.2"/><text x="1388.1" y="1430.8">commons-cli</text><text x="1388.1" y="1443">commons-cli</text><text x="1388.1" y="1455.2">1.2</text></g>
<g id="n-collections" class="n"><rect x="1730.2" y="1415.7" width="142.2" height="48.2"/><text x="1801.3" y="1430.8">commons-collections</text><text x="1801.3" y="1443">commons-collections</text><text x="1801.3" y="1455.2">3.2.2</text></g>
<g id="n-clogging12" class="n"><rect x="1878.8" y="1415.7" width="122.2" height="48.2"/><text x="1939.9" y="1430.8">commons-logging</text><text x="1939.9" y="1443">commons-logging</text><text x="1939.9" y="1455.2">1.2</text></g>
<g id="n-slf4japi" class="n"><rect x="2054.8" y="1415.7" width="72.1" height="48.2"/><text x="2090.8" y="1430.8">org.slf4j</text><text x="2090.8" y="1443">slf4j-api</text><text x="2090.8" y="1455.2">1.6.6</text></g>
<g id="n-netbeans" class="n"><rect x="1202.8" y="1562.7" width="109.7" height="47.9"/><text x="1257.6" y="1577.6">org.netbeans</text><text x="1257.6" y="1589.8">openide-lookup</text><text x="1257.6" y="1602">1.9-patched-1.0</text></g>
</svg>
